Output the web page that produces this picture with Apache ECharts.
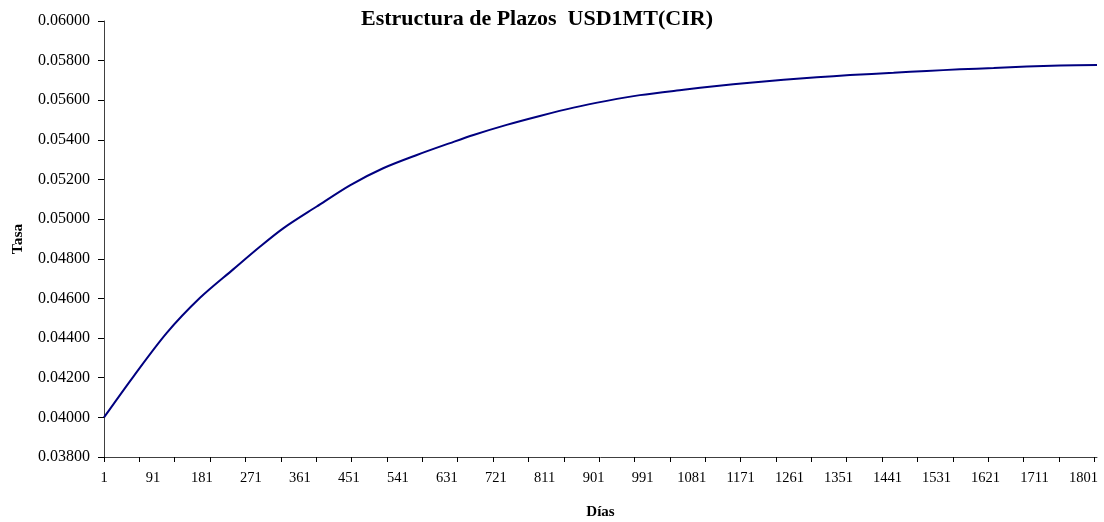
<!DOCTYPE html>
<html>
<head>
<meta charset="utf-8">
<title>Estructura de Plazos USD1MT(CIR)</title>
<script src="https://cdn.jsdelivr.net/npm/echarts@6/dist/echarts.min.js"></script>
<style>
  html, body { margin: 0; padding: 0; background: #ffffff; }
  #chart { width: 1104px; height: 522px; }
</style>
</head>
<body>
<div id="chart"></div>
<script>
// Term structure of the USD 1M rate under the CIR model (rate by day)
const days = [1, 55, 116, 177, 239, 288, 331, 392, 453, 514, 576, 637, 680, 741,
  802, 864, 925, 986, 1066, 1127, 1188, 1250, 1311, 1372, 1452, 1513, 1574,
  1636, 1697, 1758, 1826];
const rates = [0.04000, 0.04206, 0.04425, 0.04602, 0.04748, 0.04862, 0.04955,
  0.05064, 0.05171, 0.05257, 0.05324, 0.05384, 0.05425, 0.05476, 0.05521,
  0.05563, 0.05597, 0.05626, 0.05653, 0.05672, 0.05689, 0.05703, 0.05716,
  0.05727, 0.05739, 0.05748, 0.05756, 0.05763, 0.05770, 0.05775, 0.05778];

// Day labels along the bottom axis and the positions of its tick marks
const dayLabels = [1, 91, 181, 271, 361, 451, 541, 631, 721, 811, 901, 991, 1081, 1171,
  1261, 1351, 1441, 1531, 1621, 1711, 1801];
const dayTicks = [1, 66, 131, 196, 261, 326, 391, 456, 521, 586, 651, 716, 781, 846, 911,
  976, 1041, 1106, 1171, 1236, 1301, 1366, 1431, 1496, 1561, 1626, 1691, 1756, 1821];

const serif = '"Liberation Serif", "Times New Roman", "DejaVu Serif", serif';

const chart = echarts.init(document.getElementById('chart'), null, { renderer: 'canvas' });

chart.setOption({
  animation: false,
  backgroundColor: '#ffffff',
  title: {
    text: 'Estructura de Plazos  USD1MT(CIR)',
    left: 532,
    top: 3,
    textAlign: 'center',
    textStyle: { fontFamily: serif, fontWeight: 'bold', fontSize: 22, color: '#000000' }
  },
  // fixed plot rectangle; labels and names may sit close to the canvas edge
  grid: { left: 104, right: 7, top: 21, bottom: 65, containLabel: false, outerBoundsMode: 'none' },
  xAxis: {
    type: 'value',
    min: 1,
    max: 1826,
    name: 'Días',
    nameLocation: 'middle',
    nameGap: 48,
    nameTextStyle: { fontFamily: serif, fontWeight: 'bold', fontSize: 15, color: '#000000' },
    splitLine: { show: false },
    axisLine: { show: true, lineStyle: { color: '#404040', width: 1 } },
    axisTick: { show: true, length: 5, customValues: dayTicks, lineStyle: { color: '#000000' } },
    axisLabel: {
      customValues: dayLabels,
      margin: 14,
      fontFamily: serif,
      fontSize: 14.5,
      color: '#000000',
      formatter: v => String(v)
    }
  },
  yAxis: {
    type: 'value',
    min: 0.038,
    max: 0.06,
    interval: 0.002,
    name: 'Tasa',
    nameLocation: 'middle',
    nameGap: 78,
    nameRotate: 90,
    nameTextStyle: { fontFamily: serif, fontWeight: 'bold', fontSize: 15.5, color: '#000000' },
    splitLine: { show: false },
    axisLine: { show: true, lineStyle: { color: '#404040', width: 1 } },
    axisTick: { show: true, length: 6, lineStyle: { color: '#000000' } },
    axisLabel: {
      margin: 14,
      fontFamily: serif,
      fontSize: 16,
      color: '#000000',
      formatter: v => v.toFixed(5)
    }
  },
  series: [{
    name: 'USD1MT(CIR)',
    type: 'line',
    data: days.map((d, i) => [d, rates[i]]),
    showSymbol: false,
    smooth: 0.3,
    lineStyle: { color: '#000080', width: 2 },
    itemStyle: { color: '#000080' }
  }]
});
</script>
</body>
</html>
